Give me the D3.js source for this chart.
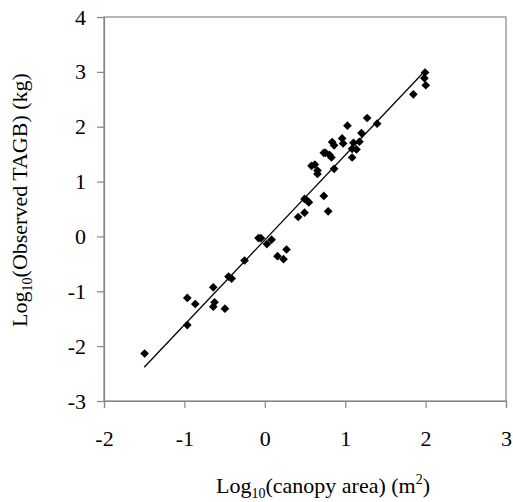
<!DOCTYPE html>
<html>
<head>
<meta charset="utf-8">
<script src="https://cdn.jsdelivr.net/npm/d3@7"></script>
<style>
  body { margin: 0; background: #fff; }
  svg text { font-family: "Liberation Serif", "Times New Roman", serif; fill: #000; }
</style>
</head>
<body>
<div id="chart"></div>
<script>
// log10 canopy area (m2)
const logArea = [
  -1.495, -0.964, -0.964, -0.865, -0.641, -0.641, -0.625, -0.496, -0.451, -0.413,
  -0.252, -0.078, -0.049, 0.026, 0.084, 0.158, 0.233, 0.270, 0.415, 0.494,
  0.494, 0.527, 0.548, 0.581, 0.622, 0.655, 0.655, 0.734, 0.788, 0.734,
  0.755, 0.804, 0.829, 0.862, 0.838, 0.862, 0.962, 0.974, 1.028, 1.086,
  1.086, 1.103, 1.140, 1.177, 1.202, 1.273, 1.397, 1.848, 1.993, 1.985, 2.002
];
// log10 observed TAGB (kg)
const logTAGB = [
  -2.134, -1.122, -1.616, -1.232, -0.927, -1.280, -1.200, -1.317, -0.732, -0.768,
  -0.439, -0.030, -0.030, -0.140, -0.060, -0.360, -0.415, -0.238, 0.354, 0.433,
  0.683, 0.652, 0.622, 1.287, 1.311, 1.200, 1.140, 0.738, 0.457, 1.524,
  1.524, 1.488, 1.439, 1.232, 1.720, 1.660, 1.787, 1.695, 2.018, 1.439,
  1.598, 1.707, 1.585, 1.726, 1.884, 2.159, 2.055, 2.591, 2.988, 2.884, 2.756
];
// fitted line
const fitRange = [-1.5, 2];
const fitSlope = 1.547;
const fitIntercept = -0.065;

const xTicks = [-2, -1, 0, 1, 2, 3];
const yTicks = [-3, -2, -1, 0, 1, 2, 3, 4];

const width = 513, height = 502;
const margin = {top: 17, right: 7, bottom: 101, left: 104};
const serif = '"Liberation Serif", "Times New Roman", serif';

const svg = d3.select("#chart").append("svg")
  .attr("width", width)
  .attr("height", height);

const x = d3.scaleLinear().domain([-2, 3]).range([margin.left, width - margin.right]);
const y = d3.scaleLinear().domain([-3, 4]).range([height - margin.bottom, margin.top]);

const axisColor = "#868686";

// plot frame
svg.append("rect")
  .attr("x", x(-2)).attr("y", y(4))
  .attr("width", x(3) - x(-2)).attr("height", y(-3) - y(4))
  .attr("fill", "none").attr("stroke", axisColor).attr("stroke-width", 1.2);

const xAxis = svg.append("g")
  .attr("transform", `translate(0,${y(-3)})`)
  .call(d3.axisBottom(x).tickValues(xTicks).tickSize(7).tickPadding(22).tickFormat(d3.format("d")));
const yAxis = svg.append("g")
  .attr("transform", `translate(${x(-2)},0)`)
  .call(d3.axisLeft(y).tickValues(yTicks).tickSize(7).tickPadding(11).tickFormat(d3.format("d")));

[xAxis, yAxis].forEach(a => {
  a.attr("font-family", serif).attr("font-size", 22);
  a.select(".domain").attr("stroke", axisColor).attr("stroke-width", 1.2);
  a.selectAll(".tick line").attr("stroke", axisColor).attr("stroke-width", 1.2);
  a.selectAll(".tick text")
    .attr("fill", "#000")
    .style("font-family", serif)
    .style("font-size", "22px")
    .text(d => d < 0 ? "-" + Math.abs(d) : d);
});

// regression line
svg.append("line")
  .attr("x1", x(fitRange[0])).attr("y1", y(fitIntercept + fitSlope * fitRange[0]))
  .attr("x2", x(fitRange[1])).attr("y2", y(fitIntercept + fitSlope * fitRange[1]))
  .attr("stroke", "#000").attr("stroke-width", 1.3);

// points as diamonds
const diamond = d3.symbol().type(d3.symbolSquare).size(38);
svg.append("g")
  .selectAll("path")
  .data(logArea.map((v, i) => [v, logTAGB[i]]))
  .join("path")
    .attr("d", diamond)
    .attr("transform", d => `translate(${x(d[0])},${y(d[1])}) rotate(45)`)
    .attr("fill", "#000");

// x title
const xt = svg.append("text")
  .attr("x", 323)
  .attr("y", 493)
  .attr("text-anchor", "middle")
  .attr("font-family", serif)
  .attr("font-size", 22);
xt.append("tspan").text("Log");
xt.append("tspan").attr("font-size", 14).attr("dy", 5).text("10");
xt.append("tspan").attr("dy", -5).text("(canopy area) (m");
xt.append("tspan").attr("font-size", 14).attr("dy", -9).text("2");
xt.append("tspan").attr("dy", 9).text(")");

// y title
const yt = svg.append("text")
  .attr("transform", `translate(27,200) rotate(-90)`)
  .attr("text-anchor", "middle")
  .attr("font-family", serif)
  .attr("font-size", 22);
yt.append("tspan").text("Log");
yt.append("tspan").attr("font-size", 14).attr("dy", 5).text("10");
yt.append("tspan").attr("dy", -5).text("(Observed TAGB) (kg)");
</script>
</body>
</html>
